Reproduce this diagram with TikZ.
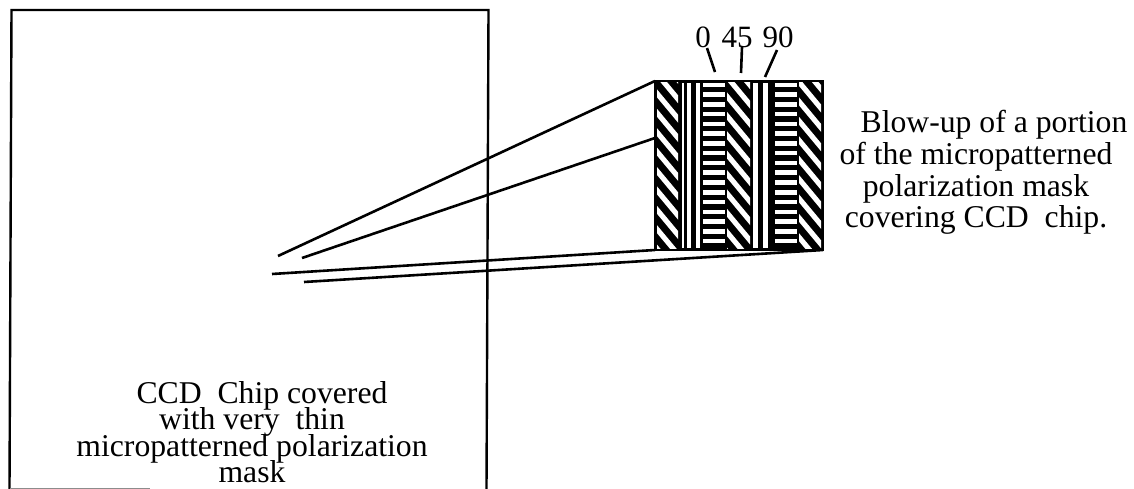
\documentclass[tikz,border=0pt]{standalone}
\usepackage{fontspec}
\setmainfont{Liberation Serif}
\newcommand{\capfont}[1]{\fontsize{31.7}{#1}\selectfont\lineskiplimit=-50pt\relax}
\tikzset{
  leader/.style={line width=2.6pt,black},
  chipline/.style={line width=2.4pt,black},
  whitebar/.style={fill=white,draw=none},
  caption/.style={align=center,inner sep=0pt,font=\capfont{26.5}},
  anglelabel/.style={inner sep=0pt,font=\fontsize{31}{31}\selectfont}
}
\begin{document}
\begin{tikzpicture}[x=1pt,y=-1pt]
  \useasboundingbox[fill=white] (0,0) rectangle (1134,489);
  % chip outline
  \coordinate (chipNW) at (11.5,10);
  \coordinate (chipNE) at (488.5,10);
  \coordinate (chipSW) at (9.5,489);
  \coordinate (chipSE) at (486.5,489);
  \coordinate (chipS) at (150,488);
  \draw[chipline] (chipSW) -- (chipNW) -- (chipNE) -- (chipSE);
  \draw[line width=1pt,black!45] (chipSW |- chipS) -- (chipS);
  % mask blow-up
  \node[draw=black,line width=2pt,fill=black,minimum width=168pt,minimum height=169pt,inner sep=0pt,outer sep=0pt] (mask) at (739,165.5) {};
  \begin{scope}
    \clip (657,83) rectangle (821,248);
    \foreach \xa/\xb/\yo in {657/678/67.6,727/750/70.6,799/821/75.6}{
      \begin{scope}
        \clip (\xa,83) rectangle (\xb,248);
        \foreach \y in {-3,...,9}{
          \fill[whitebar] (\xa-2,{\y*19.4+\yo}) -- (\xb+2,{\y*19.4+\yo+(\xb-\xa+4)*1.2}) -- ++(0,8) -- (\xa-2,{\y*19.4+\yo+8}) -- cycle;
        }
      \end{scope}
    }
    \foreach \xa/\xb in {682/684,687/691,696/700,753/758,763/768}{
      \fill[whitebar] (\xa,83) rectangle (\xb,248);
    }
    \foreach \xa/\xb in {703/725,775/797}{
      \foreach \y in {0,...,17}{
        \fill[whitebar] (\xa,{\y*9.75+82.75}) rectangle (\xb,{\y*9.75+87.25});
      }
    }
  \end{scope}
  % lines back to the chip
  \coordinate (maskmid) at (655,138);
  \coordinate (endA) at (278,256);
  \coordinate (endB) at (302,258);
  \coordinate (endC) at (272,274);
  \coordinate (endD) at (304,282);
  \draw[leader] (mask.north west) -- (endA);
  \draw[leader] (maskmid) -- (endB);
  \draw[leader] (mask.south west) -- (endC);
  \draw[leader] (mask.south east) -- (endD);
  % angle labels
  \node[anglelabel] (lab0) at (703,37) {0};
  \node[anglelabel] (lab45) at (737,37) {45};
  \node[anglelabel] (lab90) at (778,37) {90};
  \coordinate (tickA) at (715,72);
  \coordinate (tickB) at (741,73);
  \coordinate (tickC) at (765,77);
  \coordinate (startA) at (707,48);
  \coordinate (startB) at (742,47);
  \coordinate (startC) at (777,50);
  \draw[leader] (startA) -- (tickA);
  \draw[leader] (startB) -- (tickB);
  \draw[leader] (startC) -- (tickC);
  % captions
  \node[caption,font=\capfont{31.7}] (blowup) at (976,172.5) {\hspace{36pt}Blow-up of a portion\\of the micropatterned\\polarization mask\\covering CCD\ \ chip.};
  \node[caption] (chiptext) at (252,432) {\hspace{20pt}CCD\ \ Chip covered\\with very\ \ thin\\micropatterned polarization\\mask};
\end{tikzpicture}
\end{document}
